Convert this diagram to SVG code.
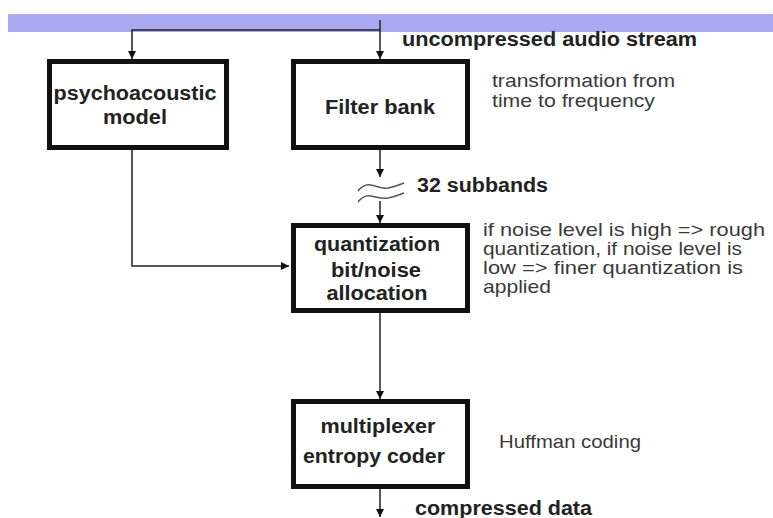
<svg xmlns="http://www.w3.org/2000/svg" width="773" height="518" viewBox="0 0 773 518">
<defs>
<marker id="arr" viewBox="0 0 10 10" refX="10" refY="5" markerWidth="8" markerHeight="14" markerUnits="userSpaceOnUse" orient="auto">
<path d="M0,0 L10,5 L0,10 Z" fill="#111"/>
</marker>
<style>
.box{fill:#fff;stroke:#111;stroke-width:5}
.lbl{font-family:"Liberation Sans",Arial,sans-serif;font-weight:bold;font-size:20px;fill:#222}
.note{font-family:"Liberation Sans",Arial,sans-serif;font-size:19px;fill:#3a3a3a}
.con{fill:none;stroke:#222;stroke-width:1.5}
.wave{fill:none;stroke:#555;stroke-width:1.5}
</style>
</defs>
<rect id="bar" x="8" y="14" width="765" height="18" fill="#aaaaf2"/>
<g id="connectors">
<path class="con" d="M380,20 V59" marker-end="url(#arr)"/>
<path class="con" d="M380,30 H132 V59" marker-end="url(#arr)"/>
<path class="con" d="M380,150 V177" marker-end="url(#arr)"/>
<path class="wave" d="M358,191 C362,186 366,184 371,185 C377,186 381,189 388,188 C394,187 399,185 404,183"/>
<path class="wave" d="M358,202 C362,197 366,195 371,196 C377,197 381,199 388,198 C394,197 399,195 404,193"/>
<path class="con" d="M380,201 V223" marker-end="url(#arr)"/>
<path class="con" d="M132,150 V266 H289" marker-end="url(#arr)"/>
<path class="con" d="M380,313 V399" marker-end="url(#arr)"/>
<path class="con" d="M380,489 V517" marker-end="url(#arr)"/>
</g>
<g id="psychoacoustic">
<rect class="box" x="49.5" y="61.5" width="177" height="86"/>
<text class="lbl" x="135" y="100" text-anchor="middle" textLength="163" lengthAdjust="spacingAndGlyphs">psychoacoustic</text>
<text class="lbl" x="135" y="124" text-anchor="middle" textLength="64" lengthAdjust="spacingAndGlyphs">model</text>
</g>
<g id="filterbank">
<rect class="box" x="293.5" y="61.5" width="174" height="86"/>
<text class="lbl" x="380" y="114" text-anchor="middle" textLength="110" lengthAdjust="spacingAndGlyphs">Filter bank</text>
</g>
<g id="quantization">
<rect class="box" x="293.5" y="225.5" width="174" height="85"/>
<text class="lbl" x="377" y="251" text-anchor="middle" textLength="126" lengthAdjust="spacingAndGlyphs">quantization</text>
<text class="lbl" x="376" y="277" text-anchor="middle" textLength="90" lengthAdjust="spacingAndGlyphs">bit/noise</text>
<text class="lbl" x="377" y="300" text-anchor="middle" textLength="101" lengthAdjust="spacingAndGlyphs">allocation</text>
</g>
<g id="multiplexer">
<rect class="box" x="293.5" y="401.5" width="174" height="85"/>
<text class="lbl" x="378" y="433" text-anchor="middle" textLength="115" lengthAdjust="spacingAndGlyphs">multiplexer</text>
<text class="lbl" x="374" y="463" text-anchor="middle" textLength="142" lengthAdjust="spacingAndGlyphs">entropy coder</text>
</g>
<g id="labels">
<text class="lbl" x="402" y="46" textLength="295" lengthAdjust="spacingAndGlyphs">uncompressed audio stream</text>
<text class="lbl" x="417" y="192" textLength="131" lengthAdjust="spacingAndGlyphs">32 subbands</text>
<text class="lbl" x="415" y="515" textLength="177" lengthAdjust="spacingAndGlyphs">compressed data</text>
<text class="note" x="492" y="87" textLength="183" lengthAdjust="spacingAndGlyphs">transformation from</text>
<text class="note" x="492" y="107" textLength="163" lengthAdjust="spacingAndGlyphs">time to frequency</text>
<text class="note" x="483" y="236" textLength="282" lengthAdjust="spacingAndGlyphs">if noise level is high =&gt; rough</text>
<text class="note" x="483" y="255" textLength="259" lengthAdjust="spacingAndGlyphs">quantization, if noise level is</text>
<text class="note" x="483" y="274" textLength="260" lengthAdjust="spacingAndGlyphs">low =&gt; finer quantization is</text>
<text class="note" x="483" y="293" textLength="68" lengthAdjust="spacingAndGlyphs">applied</text>
<text class="note" x="499" y="448" textLength="142" lengthAdjust="spacingAndGlyphs">Huffman coding</text>
</g>
</svg>
